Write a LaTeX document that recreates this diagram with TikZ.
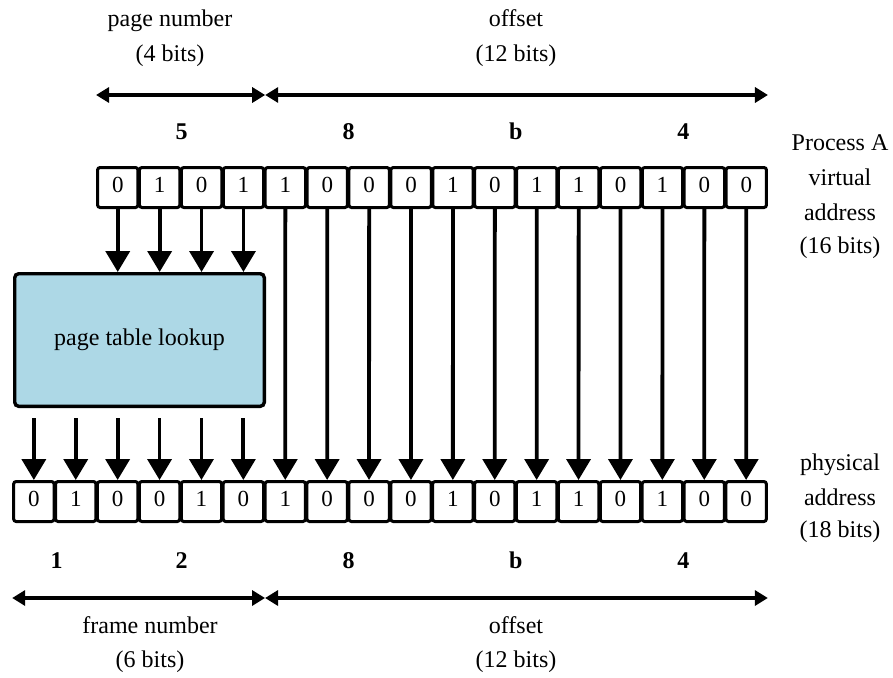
\documentclass[tikz,border=0pt]{standalone}
\usepackage{fontspec}
\setmainfont{Liberation Serif}
\usetikzlibrary{arrows.meta,calc}
\definecolor{boxblue}{HTML}{ADD8E6}
\begin{document}
\begin{tikzpicture}[x=1pt,y=-1pt,
  bit/.style={draw, line width=3pt, rounded corners=2.5pt, minimum width=40.4pt,
    minimum height=40pt, inner sep=0pt, text height=16pt, text depth=7pt,
    font=\fontsize{23}{28}\selectfont},
  hex/.style={anchor=base, font=\fontsize{24}{28}\selectfont\bfseries},
  lbl/.style={anchor=base, font=\fontsize{24}{28}\selectfont},
  flow/.style={line width=3.8pt, -{Triangle[width=24pt,length=21pt]}},
  span/.style={line width=3.5pt, {Triangle[width=15pt,length=13pt]}-{Triangle[width=15pt,length=13pt]}},
  lookup/.style={draw, fill=boxblue, line width=3.4pt, rounded corners=4pt,
    minimum width=249.6pt, minimum height=132.6pt, font=\fontsize{24}{28}\selectfont}
]
\useasboundingbox (0,0) rectangle (893,677);

% virtual address cells
\foreach \b [count=\i from 0] in {0,1,0,1,1,0,0,0,1,0,1,1,0,1,0,0}
  \node[bit] (t\i) at ({117.75+41.9*\i},187.5) {\b};
% physical address cells
\foreach \b [count=\j from 0] in {0,1,0,0,1,0,1,0,0,0,1,0,1,1,0,1,0,0}
  \node[bit] (b\j) at ({33.85+41.9*\j},501.5) {\b};

% page table lookup
\node[lookup] (ptl) at (139.5,340) {page table lookup};

% arrows
\foreach \i in {0,...,3}
  \draw[flow] (t\i.south) -- (t\i.south |- ptl.north);
\foreach \j in {0,...,5}
  \draw[flow] ($(b\j.north |- ptl.south)+(0,10)$) -- (b\j.north);
\foreach \i in {4,...,15} {
  \pgfmathtruncatemacro\j{\i+2}
  \draw[flow] (t\i.south) -- (b\j.north);
}

% top span arrows
\coordinate (tl) at (t0.west |- 0,95);
\coordinate (tm) at (t3.east |- 0,95);
\coordinate (tr) at (t15.east |- 0,95);
\draw[span] (tl) -- (tm);
\draw[span] (tm) -- (tr);
% bottom span arrows
\coordinate (bl) at (b0.west |- 0,598);
\coordinate (bm) at (b5.east |- 0,598);
\coordinate (br) at (b17.east |- 0,598);
\draw[span] (bl) -- (bm);
\draw[span] (bm) -- (br);

% top labels
\node[lbl] (pn) at (170,27) {page number};
\node[lbl] (pnb) at (170,61) {(4 bits)};
\node[lbl] (of) at (516,27) {offset};
\node[lbl] (ofb) at (516,61) {(12 bits)};
% top hex
\node[hex] (h5) at (181.5,139) {5};
\node[hex] (h8) at (348.5,139) {8};
\node[hex] (hb) at (515.8,139) {b};
\node[hex] (h4) at (683.4,139) {4};
% bottom hex
\node[hex] (g1) at (56.5,568) {1};
\node[hex] (g2) at (181.5,568) {2};
\node[hex] (g8) at (348.5,568) {8};
\node[hex] (gb) at (515.8,568) {b};
\node[hex] (g4) at (683.4,568) {4};
% right labels
\node[lbl] (r1) at (840,150) {Process A};
\node[lbl] (r2) at (840,185) {virtual};
\node[lbl] (r3) at (840,220) {address};
\node[lbl] (r4) at (840,253) {(16 bits)};
\node[lbl] (q1) at (840,470) {physical};
\node[lbl] (q2) at (840,505) {address};
\node[lbl] (q3) at (840,537) {(18 bits)};
% bottom labels
\node[lbl] (fn) at (150,633) {frame number};
\node[lbl] (fnb) at (150,667) {(6 bits)};
\node[lbl] (bo) at (516,633) {offset};
\node[lbl] (bob) at (516,667) {(12 bits)};
\end{tikzpicture}
\end{document}
